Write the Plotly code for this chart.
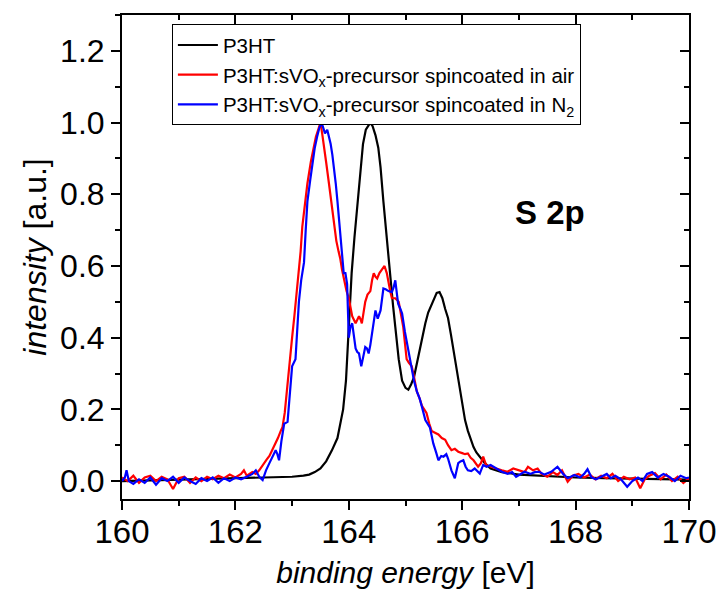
import plotly.graph_objects as go

# ---------------- data ----------------
p3ht_x = [160.0, 160.5, 161.0, 161.5, 162.0, 162.5, 162.8, 163.0, 163.2, 163.3, 163.4, 163.5,
          163.6, 163.7, 163.8, 163.85, 163.9, 163.95, 164.0, 164.05, 164.1, 164.15, 164.2, 164.25,
          164.3, 164.35, 164.38, 164.42, 164.47, 164.52, 164.56, 164.61, 164.67, 164.73, 164.78,
          164.82, 164.88, 164.94, 165.0, 165.05, 165.1, 165.15, 165.2, 165.25, 165.3, 165.35,
          165.4, 165.45, 165.5, 165.55, 165.6, 165.65, 165.7, 165.75, 165.8, 165.85, 165.9,
          165.95, 166.0, 166.05, 166.1, 166.15, 166.2, 166.25, 166.3, 166.4, 166.5, 166.7,
          167.0, 167.5, 168.0, 168.5, 169.0, 169.5, 170.0]
p3ht_y = [0.000, 0.002, 0.003, 0.004, 0.006, 0.008, 0.010, 0.012, 0.015, 0.018, 0.025, 0.035,
          0.055, 0.085, 0.12, 0.16, 0.20, 0.28, 0.42, 0.58, 0.68, 0.77, 0.87, 0.94,
          0.98, 0.995, 1.0, 0.99, 0.965, 0.93, 0.875, 0.78, 0.67, 0.57, 0.49,
          0.43, 0.34, 0.28, 0.26, 0.255, 0.27, 0.29, 0.33, 0.36, 0.40, 0.44,
          0.47, 0.49, 0.51, 0.525, 0.527, 0.51, 0.48, 0.455, 0.41, 0.36, 0.31,
          0.26, 0.21, 0.17, 0.14, 0.115, 0.095, 0.08, 0.07, 0.05, 0.035, 0.025,
          0.018, 0.013, 0.010, 0.008, 0.006, 0.005, 0.004]

air_x = [160.0, 160.1, 160.2, 160.3, 160.4, 160.5, 160.6, 160.7, 160.8, 160.9, 161.0, 161.1,
         161.2, 161.3, 161.4, 161.5, 161.6, 161.7, 161.8, 161.9, 162.0, 162.1, 162.15, 162.2,
         162.3, 162.36, 162.42, 162.5, 162.55, 162.6, 162.65, 162.7, 162.75, 162.8, 162.83,
         162.87, 162.91, 162.95, 163.0, 163.04, 163.07, 163.1, 163.15, 163.18, 163.22, 163.27,
         163.33, 163.38, 163.42, 163.46, 163.5, 163.53, 163.56, 163.6, 163.65, 163.7, 163.74,
         163.78, 163.82, 163.85, 163.88, 163.92, 163.96, 164.0, 164.03, 164.06, 164.09, 164.12,
         164.15, 164.18, 164.21, 164.23, 164.26, 164.29, 164.33, 164.38, 164.41, 164.44, 164.47,
         164.5, 164.54, 164.58, 164.63, 164.67, 164.7, 164.73, 164.76, 164.82, 164.88, 164.92,
         164.96, 165.0, 165.02, 165.06, 165.11, 165.15, 165.2, 165.25, 165.29, 165.33, 165.37,
         165.42, 165.46, 165.52, 165.58, 165.64, 165.7, 165.75, 165.81, 165.87, 165.93, 166.0,
         166.05, 166.1, 166.15, 166.2, 166.28, 166.33, 166.37, 166.42, 166.5, 166.6, 166.7,
         166.8, 166.9, 167.0, 167.1, 167.16, 167.25, 167.33, 167.4, 167.5, 167.6, 167.68,
         167.76, 167.86, 167.95, 168.05, 168.15, 168.25, 168.35, 168.45, 168.55, 168.65, 168.75,
         168.85, 168.95, 169.05, 169.14, 169.22, 169.3, 169.4, 169.5, 169.6, 169.7, 169.8,
         169.9, 170.0]
air_y = [0.01, 0.0, 0.015, -0.005, 0.01, 0.015, 0.0, 0.012, 0.005, -0.022, 0.008, 0.012,
         -0.005, 0.01, 0.0, 0.012, 0.005, 0.015, 0.008, 0.018, 0.01, 0.02, 0.03, 0.015,
         0.025, 0.02, 0.03, 0.05, 0.06, 0.07, 0.086, 0.10, 0.12, 0.14, 0.15,
         0.19, 0.26, 0.33, 0.40, 0.46, 0.51, 0.55, 0.64, 0.71, 0.77, 0.83,
         0.89, 0.93, 0.96, 0.98, 1.0, 0.97, 0.94, 0.89, 0.83, 0.77, 0.71,
         0.67, 0.64, 0.62, 0.59, 0.56, 0.53, 0.51, 0.48, 0.46, 0.45, 0.44,
         0.45, 0.46, 0.45, 0.44, 0.47, 0.50, 0.52, 0.53, 0.56, 0.58, 0.57,
         0.565, 0.58, 0.59, 0.60, 0.58, 0.55, 0.53, 0.51, 0.51, 0.50, 0.47,
         0.43, 0.37, 0.34, 0.33, 0.32, 0.29, 0.25, 0.23, 0.21, 0.20, 0.19,
         0.16, 0.14, 0.135, 0.13, 0.12, 0.115, 0.10, 0.086, 0.09, 0.082, 0.078,
         0.075, 0.077, 0.065, 0.058, 0.04, 0.05, 0.068, 0.045, 0.04, 0.035, 0.03,
         0.026, 0.035, 0.03, 0.025, 0.04, 0.03, 0.035, 0.02, 0.012, 0.025, 0.017,
         0.03, -0.002, 0.015, 0.02, 0.01, 0.018, 0.005, 0.015, 0.008, 0.02, 0.0,
         0.012, 0.005, 0.01, -0.02, 0.005, 0.015, 0.022, 0.005, 0.018, 0.0, 0.012,
         -0.005, 0.008]

n2_x = [160.0, 160.05, 160.08, 160.12, 160.2, 160.3, 160.4, 160.5, 160.6, 160.7, 160.8, 160.9,
        161.0, 161.1, 161.2, 161.3, 161.4, 161.5, 161.6, 161.7, 161.8, 161.9, 162.0, 162.1,
        162.2, 162.3, 162.36, 162.42, 162.48, 162.54, 162.6, 162.66, 162.71, 162.74, 162.77,
        162.81, 162.86, 162.92, 162.96, 163.0, 163.06, 163.09, 163.12, 163.16, 163.21, 163.24,
        163.27, 163.32, 163.36, 163.4, 163.44, 163.48, 163.52, 163.55, 163.58, 163.62, 163.65,
        163.68, 163.71, 163.74, 163.77, 163.8, 163.83, 163.85, 163.88, 163.91, 163.94, 163.97,
        164.0, 164.03, 164.06, 164.09, 164.12, 164.15, 164.18, 164.22, 164.26, 164.29, 164.32,
        164.35, 164.38, 164.41, 164.44, 164.47, 164.51, 164.56, 164.61, 164.65, 164.7, 164.76,
        164.79, 164.82, 164.85, 164.87, 164.91, 164.94, 164.99, 165.05, 165.11, 165.15, 165.2,
        165.25, 165.29, 165.35, 165.43, 165.49, 165.54, 165.58, 165.63, 165.67, 165.72, 165.75,
        165.81, 165.87, 165.93, 165.97, 166.02, 166.06, 166.1, 166.16, 166.22, 166.28, 166.31,
        166.37, 166.43, 166.5, 166.6, 166.7, 166.8, 166.88, 166.95, 167.03, 167.1, 167.2,
        167.28, 167.36, 167.45, 167.57, 167.68, 167.78, 167.86, 167.98, 168.08, 168.15, 168.21,
        168.28, 168.36, 168.45, 168.55, 168.62, 168.7, 168.8, 168.91, 169.0, 169.1, 169.18,
        169.26, 169.35, 169.45, 169.55, 169.65, 169.75, 169.85, 169.95, 170.0]
n2_y = [0.0, 0.01, 0.03, 0.0, -0.008, 0.005, -0.005, 0.01, -0.01, 0.008, 0.0, 0.012,
        -0.005, 0.01, 0.0, -0.008, 0.008, 0.0, 0.01, -0.005, 0.008, 0.0, 0.01, 0.005,
        0.012, 0.02, 0.03, 0.012, 0.003, 0.03, 0.05, 0.07, 0.086, 0.075, 0.058,
        0.11, 0.16, 0.165, 0.24, 0.32, 0.34, 0.42, 0.50, 0.56, 0.61, 0.70,
        0.78, 0.84, 0.89, 0.93, 0.96, 0.985, 1.0, 0.985, 0.97, 0.98, 0.96,
        0.94, 0.91, 0.875, 0.83, 0.78, 0.73, 0.69, 0.63, 0.58, 0.58, 0.55,
        0.40, 0.43, 0.44, 0.40, 0.37, 0.36, 0.356, 0.32, 0.35, 0.374, 0.37,
        0.356, 0.38, 0.41, 0.45, 0.476, 0.453, 0.476, 0.537, 0.535, 0.53, 0.527,
        0.54, 0.56, 0.52, 0.495, 0.48, 0.467, 0.416, 0.365, 0.31, 0.28, 0.25,
        0.23, 0.207, 0.17, 0.15, 0.105, 0.08, 0.058, 0.07, 0.068, 0.075, 0.063,
        0.03, 0.008, 0.05, 0.055, 0.058, 0.04, 0.03, 0.028, 0.035, 0.026, 0.021,
        0.045, 0.04, 0.045, 0.035, 0.026, 0.02, 0.025, 0.012, 0.02, 0.026, 0.02,
        0.025, 0.026, 0.018, 0.026, 0.04, 0.02, 0.008, 0.017, 0.01, 0.02, 0.033,
        0.01, 0.005, 0.012, 0.02, 0.008, 0.015, 0.005, -0.016, 0.0, 0.01, 0.0,
        0.02, 0.025, 0.01, 0.02, 0.012, 0.0, 0.015, 0.008, 0.01]

series_names = ["P3HT",
                "P3HT:sVO<sub>x</sub>-precursor spincoated in air",
                "P3HT:sVO<sub>x</sub>-precursor spincoated in N<sub>2</sub>"]
series_colors = ["#000000", "#ff0000", "#0000ff"]

x_ticks = [160, 162, 164, 166, 168, 170]
y_ticks = [0.0, 0.2, 0.4, 0.6, 0.8, 1.0, 1.2]
x_range = [160, 170]
y_range = [-0.05, 1.3]

FONT = "Liberation Sans, Arial, sans-serif"

fig = go.Figure()
for xs, ys, name, col in [(p3ht_x, p3ht_y, series_names[0], series_colors[0]),
                          (air_x, air_y, series_names[1], series_colors[1]),
                          (n2_x, n2_y, series_names[2], series_colors[2])]:
    fig.add_trace(go.Scatter(x=xs, y=ys, mode="lines", name=name,
                             line=dict(color=col, width=2.2)))

# dummy trace for mirrored inner-tick axes
fig.add_trace(go.Scatter(x=[None], y=[None], xaxis="x2", yaxis="y2",
                         showlegend=False, hoverinfo="skip"))

fig.add_annotation(x=167.55, y=0.75, text="<b>S 2p</b>", showarrow=False,
                   font=dict(family=FONT, size=33, color="black"))

fig.update_layout(
    width=719, height=595,
    margin=dict(l=122, r=30, t=15, b=96),
    plot_bgcolor="white", paper_bgcolor="white",
    font=dict(family=FONT, color="black"),
    showlegend=True,
    legend=dict(x=0.088, y=0.981, xanchor="left", yanchor="top",
                bgcolor="white", bordercolor="black", borderwidth=1,
                font=dict(family=FONT, size=20.5, color="black"),
                tracegroupgap=0, itemwidth=40),
    xaxis=dict(range=x_range, tickvals=x_ticks, ticks="outside", ticklen=9, tickwidth=2,
               tickcolor="black", showline=True, linewidth=2, linecolor="black", mirror=True,
               showgrid=False, zeroline=False, automargin=False, ticklabelstandoff=-7,
               tickfont=dict(family=FONT, size=33),
               minor=dict(dtick=1, ticks="outside", ticklen=5, tickwidth=2, tickcolor="black"),
               title=dict(text="<i>binding energy</i> [eV]", font=dict(family=FONT, size=30),
                          standoff=13)),
    yaxis=dict(range=y_range, tickvals=y_ticks, tickformat=".1f", ticks="outside", ticklen=9,
               tickwidth=2, tickcolor="black", showline=True, linewidth=2, linecolor="black",
               mirror=True, showgrid=False, zeroline=False, automargin=False,
               tickfont=dict(family=FONT, size=32),
               minor=dict(dtick=0.1, ticks="outside", ticklen=5, tickwidth=2, tickcolor="black"),
               title=dict(text="<i>intensity</i> [a.u.]", font=dict(family=FONT, size=32),
                          standoff=4)),
    xaxis2=dict(range=x_range, overlaying="x", side="top", anchor="y", tickvals=x_ticks,
                ticks="inside", ticklen=9, tickwidth=2, tickcolor="black", automargin=False,
                showticklabels=False, showgrid=False, zeroline=False, showline=False,
                minor=dict(dtick=1, ticks="inside", ticklen=5, tickwidth=2, tickcolor="black")),
    yaxis2=dict(range=y_range, overlaying="y", side="right", anchor="x", tickvals=y_ticks,
                ticks="inside", ticklen=9, tickwidth=2, tickcolor="black", automargin=False,
                showticklabels=False, showgrid=False, zeroline=False, showline=False,
                minor=dict(dtick=0.1, ticks="inside", ticklen=5, tickwidth=2, tickcolor="black")),
)

fig.write_html("out.html")
